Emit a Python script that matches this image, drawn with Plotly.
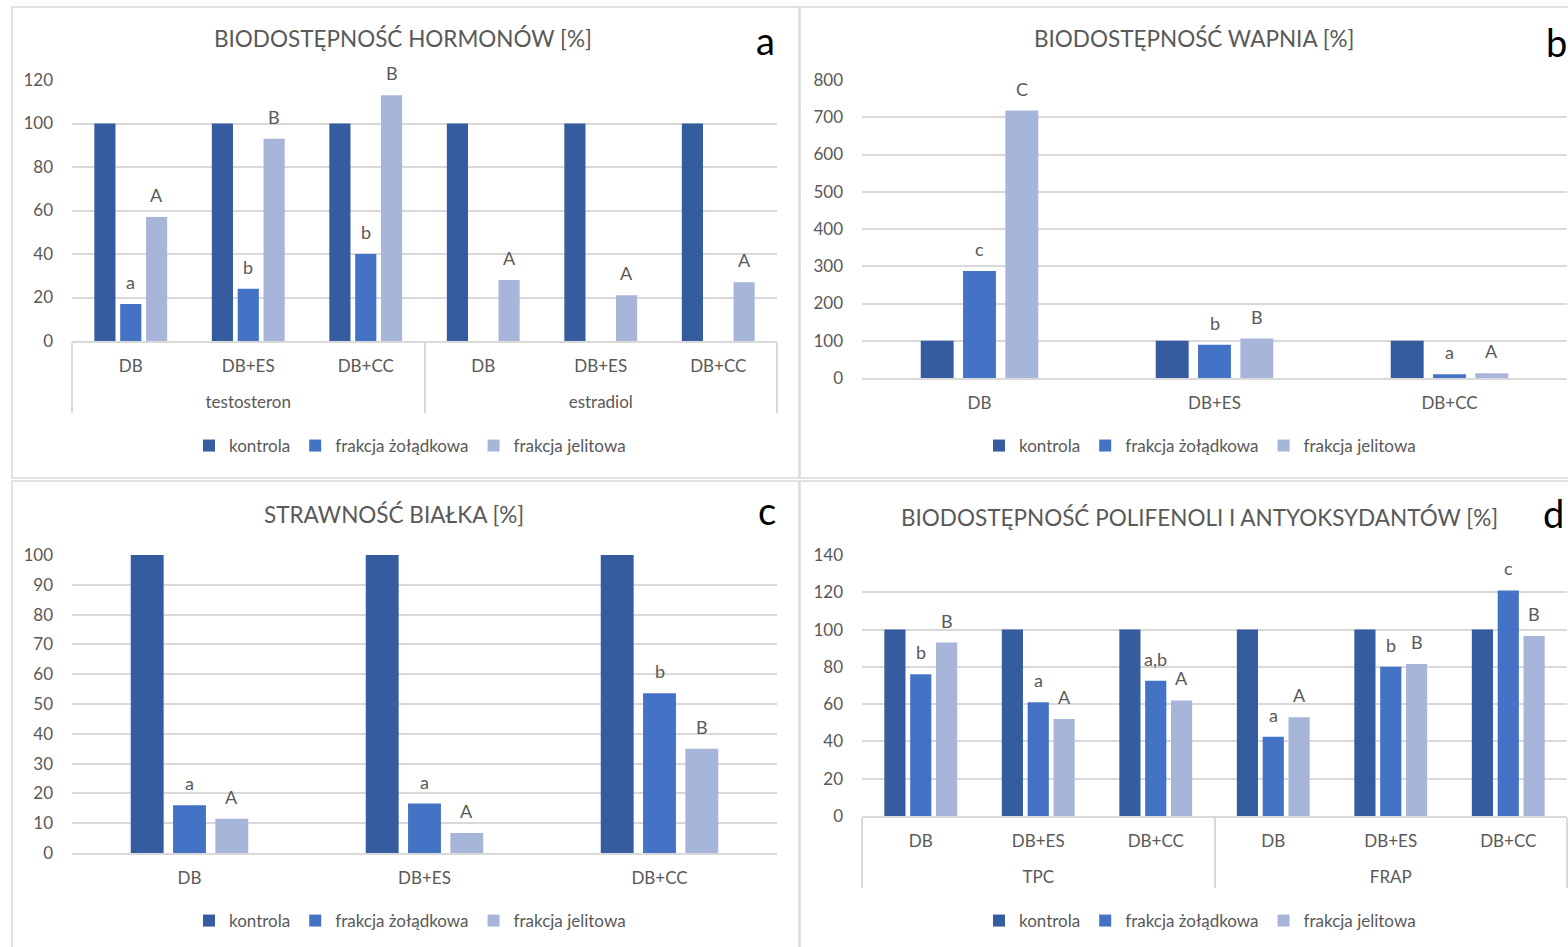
import plotly.graph_objects as go

# ---------------- data ----------------
series_names = ["kontrola", "frakcja żołądkowa", "frakcja jelitowa"]

# (a) hormones
hormones = ["testosteron", "estradiol"]
samples = ["DB", "DB+ES", "DB+CC"]
a_kontrola = [100, 100, 100, 100, 100, 100]
a_zoladkowa = [17, 24, 40, None, None, None]
a_jelitowa = [57, 93, 113, 28, 21, 27]
a_lbl_zoladkowa = ["a", "b", "b", "", "", ""]
a_lbl_jelitowa = ["A", "B", "B", "A", "A", "A"]

# (b) calcium
b_kontrola = [100, 100, 100]
b_zoladkowa = [287, 89, 10]
b_jelitowa = [718, 106, 13]
b_lbl_zoladkowa = ["c", "b", "a"]
b_lbl_jelitowa = ["C", "B", "A"]

# (c) protein digestibility
c_kontrola = [100, 100, 100]
c_zoladkowa = [16, 16.6, 53.6]
c_jelitowa = [11.5, 6.7, 35]
c_lbl_zoladkowa = ["a", "a", "b"]
c_lbl_jelitowa = ["A", "A", "B"]

# (d) polyphenols / antioxidants
assays = ["TPC", "FRAP"]
d_kontrola = [100, 100, 100, 100, 100, 100]
d_zoladkowa = [76, 61, 72.5, 42.5, 80, 121]
d_jelitowa = [93, 52, 62, 53, 81.5, 96.5]
d_lbl_zoladkowa = ["b", "a", "a,b", "a", "b", "c"]
d_lbl_jelitowa = ["B", "A", "A", "A", "B", "B"]

titles = ["BIODOSTĘPNOŚĆ HORMONÓW [%]", "BIODOSTĘPNOŚĆ WAPNIA [%]",
          "STRAWNOŚĆ BIAŁKA [%]", "BIODOSTĘPNOŚĆ POLIFENOLI I ANTYOKSYDANTÓW [%]"]
panel_letters = ["a", "b", "c", "d"]

# ---------------- style ----------------
W, H = 1568, 947
FONT = "Lato, 'Open Sans', sans-serif"
GREY = "#595959"
GRID = "#D9D9D9"
COLORS = ["#355C9F", "#4472C4", "#A8B5DA"]


def px_x(v):
    return v / W


def px_y(v):
    return 1 - v / H


def two_level(groups):
    # outer labels get a leading blank line so they sit well below the inner row
    return [["<br>" + g for g in groups for _ in samples], samples * len(groups)]


fig = go.Figure()

# per-panel geometry: bar width and left offsets in category units
narrow = dict(width=0.18, offsets=[-0.31, -0.09, 0.13])
wide = dict(width=0.14, offsets=[-0.25, -0.07, 0.11])

panels = [
    dict(x=two_level(hormones), vals=[a_kontrola, a_zoladkowa, a_jelitowa],
         lbls=[None, a_lbl_zoladkowa, a_lbl_jelitowa], geo=narrow,
         xa="x", ya="y", legend="legend"),
    dict(x=samples, vals=[b_kontrola, b_zoladkowa, b_jelitowa],
         lbls=[None, b_lbl_zoladkowa, b_lbl_jelitowa], geo=wide,
         xa="x2", ya="y2", legend="legend2"),
    dict(x=samples, vals=[c_kontrola, c_zoladkowa, c_jelitowa],
         lbls=[None, c_lbl_zoladkowa, c_lbl_jelitowa], geo=wide,
         xa="x3", ya="y3", legend="legend3"),
    dict(x=two_level(assays), vals=[d_kontrola, d_zoladkowa, d_jelitowa],
         lbls=[None, d_lbl_zoladkowa, d_lbl_jelitowa], geo=narrow,
         xa="x4", ya="y4", legend="legend4"),
]

annotations = []
for p in panels:
    w = p["geo"]["width"]
    for s, (name, vals) in enumerate(zip(series_names, p["vals"])):
        fig.add_trace(go.Bar(
            x=p["x"], y=vals, name=name,
            marker=dict(color=COLORS[s], line=dict(width=0)),
            width=w, offset=p["geo"]["offsets"][s],
            xaxis=p["xa"], yaxis=p["ya"], legend=p["legend"],
            hoverinfo="skip",
        ))
        lbls = p["lbls"][s]
        if lbls is None:
            continue
        for i, (v, t) in enumerate(zip(vals, lbls)):
            if v is None or not t:
                continue
            annotations.append(dict(
                x=i + p["geo"]["offsets"][s] + w / 2, y=v,
                xref=p["xa"], yref=p["ya"], text=t, showarrow=False,
                yanchor="middle", yshift=22,
                font=dict(family=FONT, size=18, color=GREY),
            ))

# titles and panel letters
title_pos = [(403, 38), (1194, 38), (394, 514), (1199, 517)]
letter_pos = [(765, 40), (1556, 42), (767, 510), (1553, 513)]
for t, (tx, ty) in zip(titles, title_pos):
    annotations.append(dict(x=px_x(tx), y=px_y(ty), xref="paper", yref="paper",
                            text=t, showarrow=False, xanchor="center", yanchor="middle",
                            font=dict(family=FONT, size=22.5, color=GREY)))
for t, (tx, ty) in zip(panel_letters, letter_pos):
    annotations.append(dict(x=px_x(tx), y=px_y(ty), xref="paper", yref="paper",
                            text=t, showarrow=False, xanchor="center", yanchor="middle",
                            font=dict(family=FONT, size=38, color="#000000")))

# panel frames
frames = [(12, 7, 799, 478), (800, 7, 1590, 478), (12, 481, 799, 960), (800, 481, 1590, 960)]
shapes = [dict(type="rect", xref="paper", yref="paper",
               x0=px_x(x0), x1=px_x(x1), y0=px_y(y1), y1=px_y(y0),
               line=dict(color=GRID, width=1.5), layer="below")
          for x0, y0, x1, y1 in frames]

tick_font = dict(family=FONT, size=17, color=GREY)


def xaxis(dom, anchor):
    return dict(domain=[px_x(dom[0]), px_x(dom[1])], anchor=anchor,
                showgrid=False, showline=True, linecolor=GRID, linewidth=1.5,
                ticks="", tickfont=tick_font, fixedrange=True, automargin=False,
                ticklabelstandoff=9,
                showdividers=True, dividercolor=GRID, dividerwidth=1.5)


def yaxis(dom, anchor, rng, dtick):
    return dict(domain=[px_y(dom[1]), px_y(dom[0])], anchor=anchor,
                range=rng, dtick=dtick, showgrid=True, gridcolor=GRID, gridwidth=1.5,
                zeroline=False, showline=False, ticks="", tickfont=tick_font,
                ticklabelstandoff=18, fixedrange=True, automargin=False)


legend_common = dict(orientation="h", xanchor="center", yanchor="middle",
                     font=dict(family=FONT, size=17, color=GREY),
                     bgcolor="rgba(0,0,0,0)", itemclick=False, itemdoubleclick=False)

fig.update_layout(
    width=W, height=H, margin=dict(l=0, r=0, t=0, b=0, autoexpand=False),
    paper_bgcolor="white", plot_bgcolor="white",
    barmode="overlay", showlegend=True,
    font=dict(family=FONT, color=GREY),
    xaxis=xaxis((72, 777), "y"), yaxis=yaxis((80, 341), "x", [0, 120], 20),
    xaxis2=xaxis((862, 1567), "y2"), yaxis2=yaxis((80, 378), "x2", [0, 800], 100),
    xaxis3=xaxis((72, 777), "y3"), yaxis3=yaxis((555, 853), "x3", [0, 100], 10),
    xaxis4=xaxis((862, 1567), "y4"), yaxis4=yaxis((555, 816), "x4", [0, 140], 20),
    legend=dict(x=px_x(410), y=px_y(446), **legend_common),
    legend2=dict(x=px_x(1200), y=px_y(446), **legend_common),
    legend3=dict(x=px_x(410), y=px_y(921), **legend_common),
    legend4=dict(x=px_x(1200), y=px_y(921), **legend_common),
    annotations=annotations, shapes=shapes,
)

fig.write_html("out.html")
